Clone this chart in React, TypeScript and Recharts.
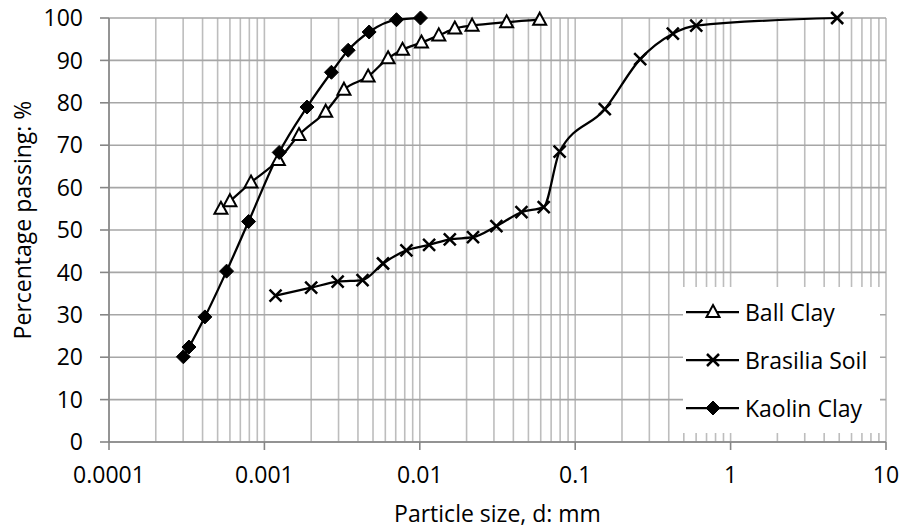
import {
  LineChart,
  Line,
  XAxis,
  YAxis,
  CartesianGrid,
  Legend,
} from "recharts";

const ballClaySize = [0.000525, 0.0006, 0.00082, 0.00123, 0.00167, 0.00248, 0.00325, 0.00465, 0.00625, 0.00774, 0.01025, 0.01325, 0.0168, 0.0217, 0.0362, 0.0591];
const ballClayPassing = [55.0, 56.8, 61.2, 66.5, 72.4, 77.9, 83.1, 86.2, 90.5, 92.5, 94.2, 95.9, 97.5, 98.2, 99.0, 99.6];

const brasiliaSize = [0.00118, 0.002, 0.00296, 0.00428, 0.0058, 0.0082, 0.01148, 0.0156, 0.022, 0.0311, 0.0451, 0.0627, 0.0794, 0.155, 0.262, 0.425, 0.601, 4.85];
const brasiliaPassing = [34.5, 36.4, 37.8, 38.2, 42.1, 45.2, 46.5, 47.8, 48.3, 50.9, 54.2, 55.4, 68.5, 78.5, 90.3, 96.3, 98.2, 100];

const kaolinSize = [0.000301, 0.000327, 0.000414, 0.000571, 0.000791, 0.001245, 0.00188, 0.0027, 0.00346, 0.00472, 0.00708, 0.0101];
const kaolinPassing = [20.1, 22.4, 29.5, 40.3, 52.0, 68.3, 79.0, 87.2, 92.4, 96.7, 99.6, 100];

const xTicks = [0.0001, 0.001, 0.01, 0.1, 1, 10];
const yTicks = [0, 10, 20, 30, 40, 50, 60, 70, 80, 90, 100];
const seriesNames = ["Ball Clay", "Brasilia Soil", "Kaolin Clay"];

const toRows = (xs: number[], ys: number[]) => xs.map((x, i) => ({ x, y: ys[i] }));

const X_MIN = 0.0001;
const X_MAX = 10;

// 1..9 in every decade, plus the last major
const logGridValues = [0.0001, 0.001, 0.01, 0.1, 1]
  .flatMap((d) => [1, 2, 3, 4, 5, 6, 7, 8, 9].map((m) => +(d * m).toPrecision(3)))
  .concat([10]);

const FONT = "'Open Sans', sans-serif";
const FS = 23;
const AXIS = "#868686";

const Triangle = ({ cx, cy }: { cx: number; cy: number }) => (
  <polygon
    points={`${cx},${cy - 7} ${cx + 6.5},${cy + 5} ${cx - 6.5},${cy + 5}`}
    fill="#fff"
    stroke="#000"
    strokeWidth={2}
  />
);

const Cross = ({ cx, cy }: { cx: number; cy: number }) => (
  <path
    d={`M${cx - 6},${cy - 6}L${cx + 6},${cy + 6}M${cx - 6},${cy + 6}L${cx + 6},${cy - 6}`}
    stroke="#000"
    strokeWidth={2.5}
    fill="none"
  />
);

const Diamond = ({ cx, cy }: { cx: number; cy: number }) => (
  <polygon
    points={`${cx},${cy - 7} ${cx + 7},${cy} ${cx},${cy + 7} ${cx - 7},${cy}`}
    fill="#000"
    stroke="#000"
    strokeWidth={1}
  />
);

const markers = [Triangle, Cross, Diamond];

const dotFor = (Marker: typeof Triangle, tag: string) => (props: any) => {
  if (props.cx == null || props.cy == null) return <g key={`${tag}-${props.index}`} />;
  return (
    <g key={`${tag}-${props.index}`}>
      <Marker cx={props.cx} cy={props.cy} />
    </g>
  );
};

// vertical grid lines at every log step, placed within the plot area
const logGridCoords = ({ xAxis, offset }: any) => {
  if (xAxis && typeof xAxis.scale === "function") return logGridValues.map((v) => xAxis.scale(v));
  const left = offset?.left ?? 109;
  const width = offset?.width ?? 777;
  const span = Math.log10(X_MAX) - Math.log10(X_MIN);
  return logGridValues.map((v) => left + ((Math.log10(v) - Math.log10(X_MIN)) / span) * width);
};

const LegendBox = () => (
  <div style={{ background: "#fff", width: 197, height: 146, position: "relative", fontFamily: FONT, fontSize: FS }}>
    {seriesNames.map((name, i) => {
      const Marker = markers[i];
      return (
        <div key={name} style={{ position: "absolute", left: 0, top: 25 + i * 48 - 15, height: 30, display: "flex", alignItems: "center" }}>
          <svg width={60} height={30}>
            <line x1={3} y1={15} x2={56} y2={15} stroke="#000" strokeWidth={2.25} />
            <Marker cx={30} cy={15} />
          </svg>
          <span style={{ marginLeft: 2, color: "#000", lineHeight: "30px" }}>{name}</span>
        </div>
      );
    })}
  </div>
);

export default function App() {
  return (
    <div style={{ position: "absolute", left: 0, top: 0, background: "#fff" }}>
      <LineChart width={904} height={531} margin={{ top: 18, right: 18, bottom: 0, left: 0 }}>
        <CartesianGrid
          horizontal={false}
          stroke="#BDBDBD"
          strokeWidth={1.6}
          verticalCoordinatesGenerator={logGridCoords}
        />
        <CartesianGrid vertical={false} stroke="#A6A6A6" strokeWidth={1.6} />
        <XAxis
          type="number"
          dataKey="x"
          scale="log"
          domain={[X_MIN, X_MAX]}
          ticks={xTicks}
          allowDataOverflow
          height={89}
          tickSize={8}
          tickMargin={17}
          axisLine={{ stroke: AXIS, strokeWidth: 1.6 }}
          tickLine={{ stroke: AXIS, strokeWidth: 1.6 }}
          tick={{ fill: "#000", fontFamily: FONT, fontSize: FS }}
          tickFormatter={(v: number) => String(v)}
          label={{
            value: "Particle size, d: mm",
            position: "insideBottom",
            offset: 9,
            fill: "#000",
            fontFamily: FONT,
            fontSize: FS,
          }}
        />
        <YAxis
          type="number"
          domain={[0, 100]}
          ticks={yTicks}
          width={109}
          tickSize={9}
          tickMargin={17}
          axisLine={{ stroke: AXIS, strokeWidth: 1.6 }}
          tickLine={{ stroke: AXIS, strokeWidth: 1.6 }}
          tick={{ fill: "#000", fontFamily: FONT, fontSize: FS }}
          label={{
            content: ({ viewBox }: any) => {
              const cy = viewBox.y + viewBox.height / 2 - 10;
              return (
                <text
                  x={22}
                  y={cy}
                  transform={`rotate(-90, 22, ${cy})`}
                  textAnchor="middle"
                  dominantBaseline="central"
                  fill="#000"
                  fontFamily={FONT}
                  fontSize={FS}
                >
                  Percentage passing: %
                </text>
              );
            },
          }}
        />
        <Line
          data={toRows(ballClaySize, ballClayPassing)}
          dataKey="y"
          name={seriesNames[0]}
          type="monotone"
          stroke="#000"
          strokeWidth={2.25}
          dot={dotFor(Triangle, "bc")}
          activeDot={false}
          isAnimationActive={false}
        />
        <Line
          data={toRows(brasiliaSize, brasiliaPassing)}
          dataKey="y"
          name={seriesNames[1]}
          type="monotone"
          stroke="#000"
          strokeWidth={2.25}
          dot={dotFor(Cross, "bs")}
          activeDot={false}
          isAnimationActive={false}
        />
        <Line
          data={toRows(kaolinSize, kaolinPassing)}
          dataKey="y"
          name={seriesNames[2]}
          type="monotone"
          stroke="#000"
          strokeWidth={2.25}
          dot={dotFor(Diamond, "kc")}
          activeDot={false}
          isAnimationActive={false}
        />
        <Legend
          layout="horizontal"
          verticalAlign="middle"
          align="center"
          wrapperStyle={{ left: 683, top: 287, width: 197, height: 146 }}
          content={() => <LegendBox />}
        />
      </LineChart>
    </div>
  );
}
